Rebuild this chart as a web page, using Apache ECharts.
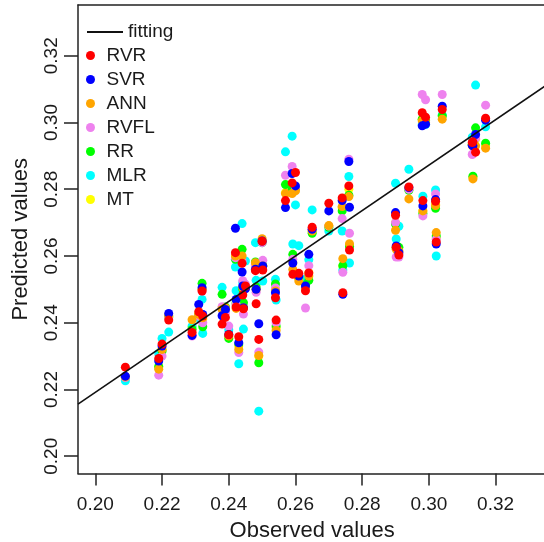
<!DOCTYPE html>
<html>
<head>
<meta charset="utf-8">
<script src="https://cdn.jsdelivr.net/npm/echarts@6/dist/echarts.min.js"></script>
<style>
html,body{margin:0;padding:0;background:#fff;}
#chart{width:544px;height:542px;}
</style>
</head>
<body>
<div id="chart"></div>
<script>
// ---- data ----
const observed = [0.209,0.219,0.220,0.222,0.229,0.231,0.232,0.2322,0.238,0.239,0.240,0.242,0.2422,0.243,0.244,0.2442,0.2444,0.245,0.248,0.2482,0.249,0.250,0.2502,0.254,0.2542,0.257,0.259,0.2592,0.260,0.261,0.263,0.264,0.265,0.270,0.274,0.2742,0.276,0.2762,0.290,0.2902,0.291,0.294,0.298,0.299,0.2982,0.302,0.3022,0.304,0.313,0.3132,0.314,0.317];

const rvr  = [0.2267,0.2293,0.2336,0.2408,0.2371,0.2433,0.2495,0.2420,0.2396,0.2416,0.2364,0.2610,0.2447,0.2358,0.2578,0.2483,0.2442,0.2510,0.2556,0.2457,0.2350,0.2644,0.2558,0.2475,0.2408,0.2766,0.2819,0.2545,0.2850,0.2548,0.2496,0.2549,0.2686,0.2758,0.2774,0.2490,0.2810,0.2618,0.2722,0.2626,0.2603,0.2807,0.3029,0.3016,0.2766,0.2764,0.2642,0.3039,0.2940,0.2942,0.2911,0.3013];
const svr  = [0.2240,0.2285,0.2330,0.2428,0.2362,0.2455,0.2505,0.2425,0.2421,0.2440,0.2365,0.2683,0.2470,0.2340,0.2552,0.2510,0.2445,0.2502,0.2560,0.2500,0.2397,0.2645,0.2570,0.2490,0.2364,0.2745,0.2847,0.2579,0.2810,0.2540,0.2510,0.2605,0.2680,0.2735,0.2766,0.2485,0.2883,0.2746,0.2730,0.2630,0.2610,0.2805,0.2990,0.2995,0.2750,0.2769,0.2636,0.3049,0.2932,0.2930,0.2964,0.3007];
const ann  = [0.2238,0.2261,0.2320,0.2422,0.2409,0.2425,0.2500,0.2415,0.2440,0.2445,0.2360,0.2600,0.2443,0.2320,0.2600,0.2505,0.2445,0.2505,0.2580,0.2500,0.2302,0.2652,0.2570,0.2495,0.2377,0.2787,0.2787,0.2560,0.2795,0.2525,0.2505,0.2540,0.2675,0.2691,0.2748,0.2592,0.2778,0.2637,0.2677,0.2620,0.2615,0.2771,0.3005,0.3000,0.2735,0.2751,0.2670,0.3010,0.2930,0.2831,0.2930,0.2923];
const rvfl = [0.2236,0.2243,0.2300,0.2415,0.2360,0.2420,0.2495,0.2400,0.2448,0.2430,0.2390,0.2595,0.2455,0.2311,0.2585,0.2526,0.2426,0.2515,0.2570,0.2491,0.2312,0.2640,0.2587,0.2504,0.2400,0.2842,0.2868,0.2590,0.2805,0.2545,0.2444,0.2571,0.2680,0.2690,0.2712,0.2551,0.2890,0.2668,0.2700,0.2597,0.2597,0.2800,0.3084,0.3068,0.2720,0.2786,0.2650,0.3084,0.2904,0.2906,0.2953,0.3052];
const rr   = [0.2237,0.2268,0.2315,0.2418,0.2380,0.2422,0.2518,0.2388,0.2485,0.2447,0.2353,0.2590,0.2460,0.2336,0.2620,0.2500,0.2460,0.2510,0.2582,0.2507,0.2280,0.2640,0.2570,0.2516,0.2390,0.2814,0.2800,0.2605,0.2802,0.2535,0.2514,0.2527,0.2668,0.2686,0.2735,0.2571,0.2782,0.2629,0.2696,0.2625,0.2626,0.2797,0.3010,0.3005,0.2727,0.2743,0.2660,0.3020,0.2935,0.2839,0.2984,0.2938];
const mlr  = [0.2226,0.2308,0.2353,0.2372,0.2390,0.2415,0.2470,0.2368,0.2506,0.2440,0.2379,0.2567,0.2496,0.2277,0.2697,0.2520,0.2381,0.2585,0.2640,0.2527,0.2135,0.2582,0.2525,0.2530,0.2468,0.2912,0.2959,0.2636,0.2753,0.2631,0.2530,0.2589,0.2738,0.2675,0.2675,0.2558,0.2838,0.2579,0.2818,0.2651,0.2689,0.2860,0.2994,0.2994,0.2779,0.2798,0.2600,0.3023,0.2956,0.2955,0.3112,0.2987];
const mt   = [0.2238,0.2270,0.2320,0.2418,0.2385,0.2425,0.2500,0.2410,0.2445,0.2440,0.2360,0.2600,0.2455,0.2330,0.2590,0.2505,0.2445,0.2505,0.2575,0.2500,0.2300,0.2645,0.2570,0.2500,0.2385,0.2790,0.2800,0.2580,0.2800,0.2535,0.2510,0.2550,0.2675,0.2690,0.2745,0.2570,0.2800,0.2630,0.2700,0.2625,0.2615,0.2800,0.3010,0.3005,0.2735,0.2755,0.2655,0.3020,0.2935,0.2835,0.2950,0.2930];

const fitX = [0.1948, 0.3352];
const fitY = [0.2156, 0.3112];

const tickValues = [0.20, 0.22, 0.24, 0.26, 0.28, 0.30, 0.32];
const axisMin = 0.1948, axisMax = 0.3352;

const seriesNames = ['RVR','SVR','ANN','RVFL','RR','MLR','MT'];
const seriesValues = [rvr, svr, ann, rvfl, rr, mlr, mt];
const seriesColors = ['#FF0000','#0000FF','#FFA500','#EE82EE','#00FF00','#00FFFF','#FFFF00'];

// ---- chart ----
const FONT = 'Liberation Sans, Arial, sans-serif';
const TXT = '#1a1a1a';
const chart = echarts.init(document.getElementById('chart'), null, {renderer: 'canvas'});

const scatterSeries = [];
for (let k = seriesNames.length - 1; k >= 0; k--) {
  scatterSeries.push({
    name: seriesNames[k],
    type: 'scatter',
    symbol: 'circle',
    symbolSize: 9,
    itemStyle: {color: seriesColors[k], opacity: 1},
    data: observed.map((x, i) => [x, seriesValues[k][i]]),
    z: 2
  });
}

const option = {
  animation: false,
  backgroundColor: '#ffffff',
  textStyle: {fontFamily: FONT, color: TXT},
  grid: {left: 78, top: 5, right: -2.3, bottom: 68.4, outerBoundsMode: 'none', containLabel: false},
  legend: [
    {
      data: ['fitting'], orient: 'vertical', left: 87, top: 22.5, padding: 0,
      itemWidth: 36, itemHeight: 2, icon: 'rect',
      textStyle: {fontSize: 19, lineHeight: 19, color: TXT, fontFamily: FONT}
    },
    {
      data: seriesNames, orient: 'vertical', left: 86, top: 46, padding: 0,
      itemWidth: 22, itemHeight: 9, itemGap: 5, icon: 'circle',
      textStyle: {fontSize: 19, lineHeight: 19, color: TXT, fontFamily: FONT}
    }
  ],
  xAxis: [
    {
      type: 'value', min: axisMin, max: axisMax, position: 'bottom',
      name: 'Observed values', nameLocation: 'middle', nameGap: 46,
      nameTextStyle: {fontSize: 22, color: TXT, fontFamily: FONT},
      axisLine: {show: true, onZero: false, lineStyle: {color: '#222', width: 1.5}},
      axisTick: {show: true, length: 12, customValues: tickValues, lineStyle: {color: '#222', width: 1.5}},
      axisLabel: {show: true, margin: 22, fontSize: 19, color: TXT, fontFamily: FONT,
                  customValues: tickValues, formatter: v => v.toFixed(2)},
      splitLine: {show: false}
    },
    {
      type: 'value', min: axisMin, max: axisMax, position: 'top',
      axisLine: {show: true, onZero: false, lineStyle: {color: '#222', width: 1.5}},
      axisTick: {show: false}, axisLabel: {show: false}, splitLine: {show: false}
    }
  ],
  yAxis: [
    {
      type: 'value', min: axisMin, max: axisMax, position: 'left',
      name: 'Predicted values', nameLocation: 'middle', nameGap: 46,
      nameTextStyle: {fontSize: 22, color: TXT, fontFamily: FONT},
      axisLine: {show: true, onZero: false, lineStyle: {color: '#222', width: 1.5}},
      axisTick: {show: true, length: 14, customValues: tickValues, lineStyle: {color: '#222', width: 1.5}},
      axisLabel: {show: true, rotate: 90, margin: 17, fontSize: 19, color: TXT, fontFamily: FONT,
                  customValues: tickValues, formatter: v => v.toFixed(2)},
      splitLine: {show: false}
    },
    {
      type: 'value', min: axisMin, max: axisMax, position: 'right',
      axisLine: {show: true, onZero: false, lineStyle: {color: '#222', width: 1.5}},
      axisTick: {show: false}, axisLabel: {show: false}, splitLine: {show: false}
    }
  ],
  series: scatterSeries.concat([
    {
      name: 'fitting',
      type: 'line',
      data: fitX.map((x, i) => [x, fitY[i]]),
      symbol: 'none',
      lineStyle: {color: '#111', width: 1.6},
      itemStyle: {color: '#111'},
      z: 3
    }
  ])
};
chart.setOption(option);
</script>
</body>
</html>
